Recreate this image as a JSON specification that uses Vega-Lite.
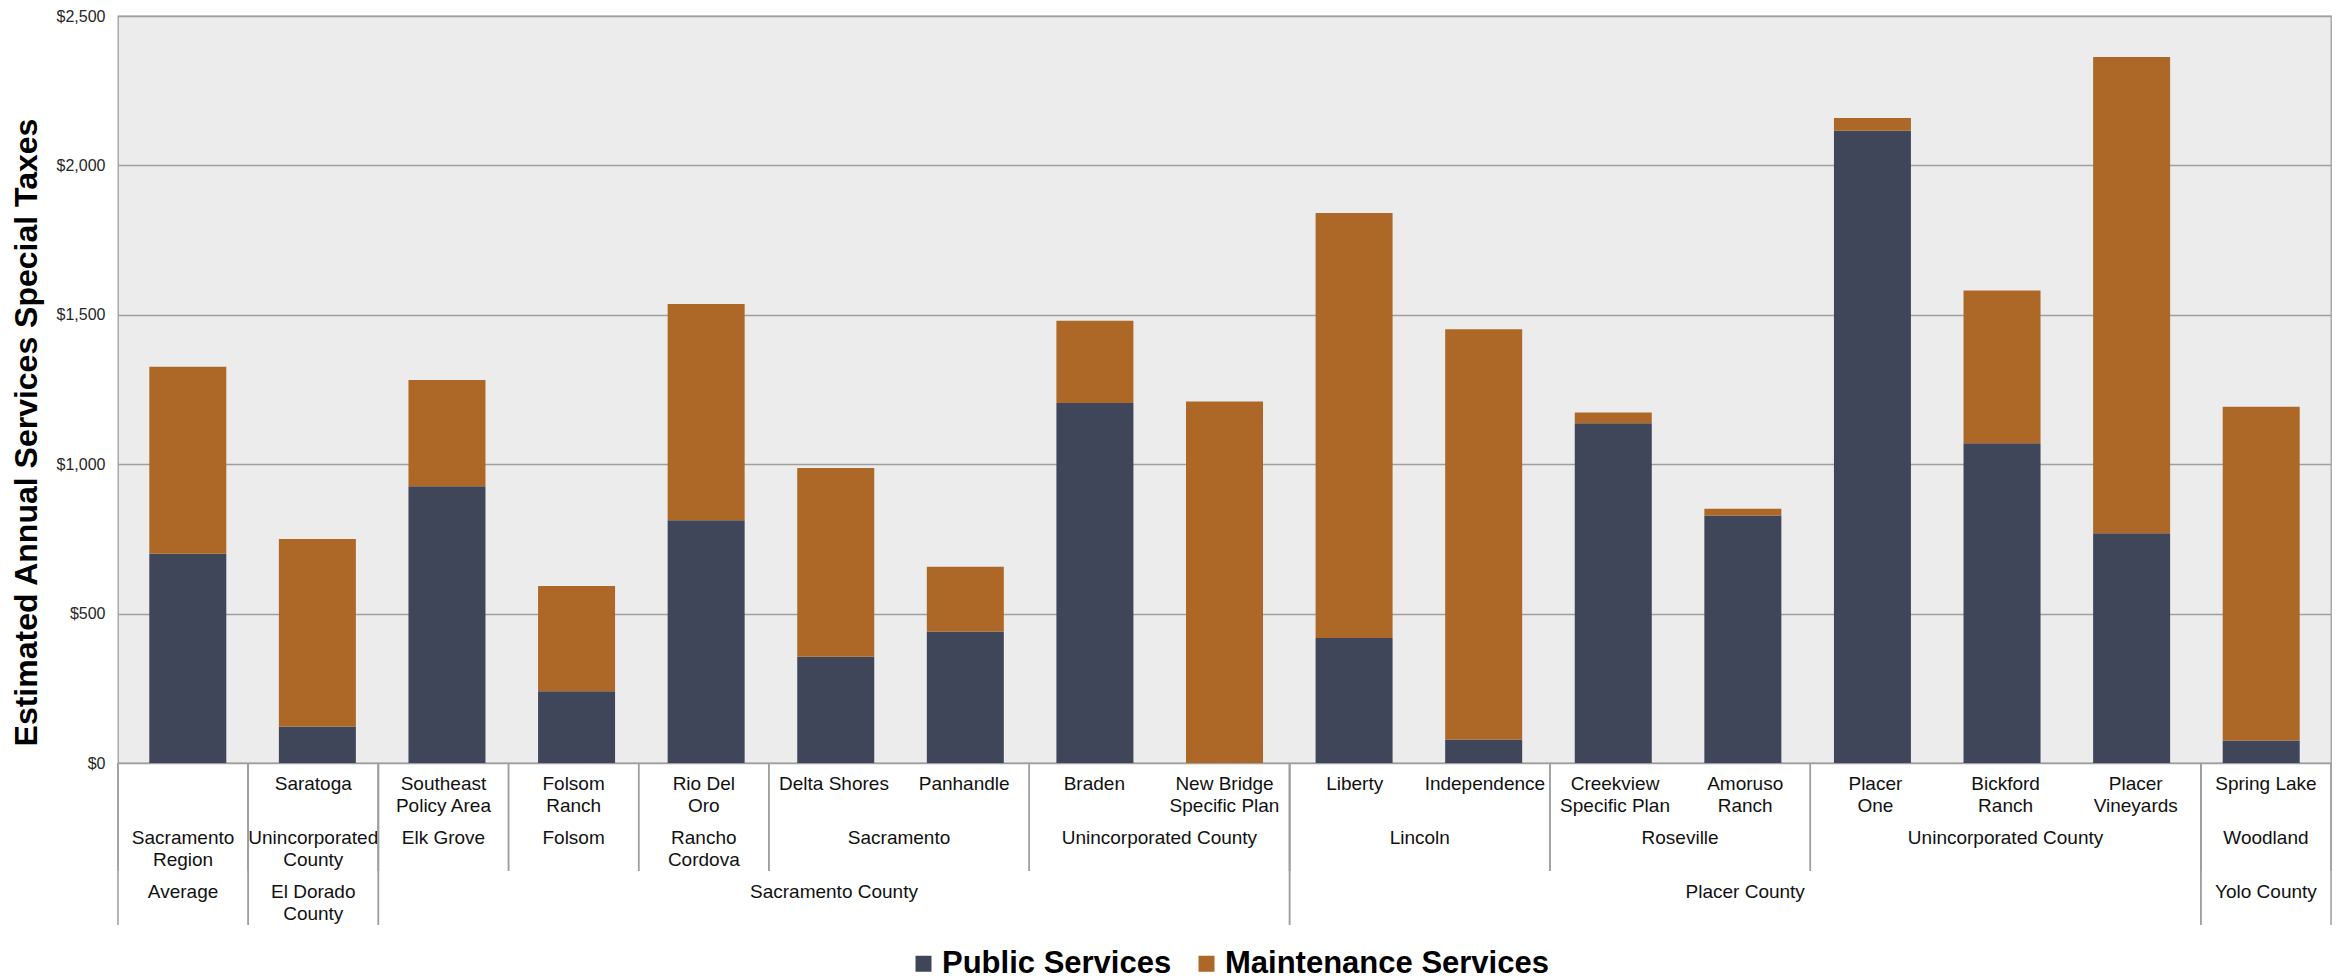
{
  "$schema": "https://vega.github.io/schema/vega-lite/v6.json",
  "padding": {"left": 9, "top": 7, "right": 5, "bottom": 5},
  "background": "#ffffff",
  "bounds": "flush",
  "spacing": 0,
  "data": {"values": [
    {"project": "", "city": "Sacramento\nRegion", "county": "Average", "Public Services": 700, "Maintenance Services": 626},
    {"project": "Saratoga", "city": "Unincorporated\nCounty", "county": "El Dorado\nCounty", "Public Services": 122, "Maintenance Services": 628},
    {"project": "Southeast\nPolicy Area", "city": "Elk Grove", "county": "Sacramento County", "Public Services": 926, "Maintenance Services": 356},
    {"project": "Folsom\nRanch", "city": "Folsom", "county": "Sacramento County", "Public Services": 240, "Maintenance Services": 352},
    {"project": "Rio Del\nOro", "city": "Rancho\nCordova", "county": "Sacramento County", "Public Services": 812, "Maintenance Services": 724},
    {"project": "Delta Shores", "city": "Sacramento", "county": "Sacramento County", "Public Services": 356, "Maintenance Services": 631},
    {"project": "Panhandle", "city": "Sacramento", "county": "Sacramento County", "Public Services": 440, "Maintenance Services": 217},
    {"project": "Braden", "city": "Unincorporated County", "county": "Sacramento County", "Public Services": 1205, "Maintenance Services": 275},
    {"project": "New Bridge\nSpecific Plan", "city": "Unincorporated County", "county": "Sacramento County", "Public Services": 0, "Maintenance Services": 1210},
    {"project": "Liberty", "city": "Lincoln", "county": "Placer County", "Public Services": 418, "Maintenance Services": 1423},
    {"project": "Independence", "city": "Lincoln", "county": "Placer County", "Public Services": 79, "Maintenance Services": 1373},
    {"project": "Creekview\nSpecific Plan", "city": "Roseville", "county": "Placer County", "Public Services": 1137, "Maintenance Services": 36},
    {"project": "Amoruso\nRanch", "city": "Roseville", "county": "Placer County", "Public Services": 828, "Maintenance Services": 23},
    {"project": "Placer\nOne", "city": "Unincorporated County", "county": "Placer County", "Public Services": 2116, "Maintenance Services": 43},
    {"project": "Bickford\nRanch", "city": "Unincorporated County", "county": "Placer County", "Public Services": 1070, "Maintenance Services": 511},
    {"project": "Placer\nVineyards", "city": "Unincorporated County", "county": "Placer County", "Public Services": 769, "Maintenance Services": 1594},
    {"project": "Spring Lake", "city": "Woodland", "county": "Yolo County", "Public Services": 75, "Maintenance Services": 1117}
  ]},
  "transform": [{"window": [{"op": "row_number", "as": "idx"}]}],
  "vconcat": [
    {
      "width": 2213,
      "height": 747,
      "view": {"stroke": "#9e9e9e", "strokeWidth": 1.3, "fill": "#ececec"},
      "transform": [{"fold": ["Public Services", "Maintenance Services"], "as": ["type", "value"]}],
      "mark": {"type": "bar", "width": 77},
      "encoding": {
        "x": {"field": "idx", "type": "quantitative", "scale": {"domain": [0.5, 17.5], "nice": false, "zero": false}, "axis": null},
        "y": {"field": "value", "type": "quantitative", "stack": "zero",
              "scale": {"domain": [0, 2500], "nice": false},
              "axis": {"values": [0, 500, 1000, 1500, 2000, 2500], "format": "$,.0f", "grid": true, "titleY": 416},
              "title": "Estimated Annual Services Special Taxes"},
        "color": {"field": "type", "type": "nominal",
                  "scale": {"domain": ["Public Services", "Maintenance Services"], "range": ["#40465a", "#ad6828"]},
                  "legend": {"title": null, "orient": "none", "direction": "horizontal", "legendX": 790, "legendY": 932,
                             "symbolType": "square", "symbolSize": 256, "symbolStrokeWidth": 0,
                             "labelFont": "Liberation Sans", "labelFontSize": 31, "labelFontWeight": "bold", "labelColor": "#000000",
                             "columnPadding": 19, "labelOffset": 3}},
        "order": {"field": "type", "sort": "descending"}
      }
    },
    {
      "width": 2213,
      "height": 162,
      "view": {"stroke": null, "fill": null},
      "layer": [
        {
          "mark": {"type": "text", "baseline": "top", "dy": 12, "lineBreak": "\n", "fontSize": 19, "lineHeight": 22, "font": "Liberation Sans", "color": "#111111"},
          "encoding": {
            "x": {"field": "idx", "type": "quantitative", "scale": {"domain": [0.5, 17.5], "nice": false, "zero": false}, "axis": null},
            "y": {"datum": 0, "type": "quantitative", "scale": {"domain": [0, 3], "nice": false, "reverse": true}, "axis": null},
            "text": {"field": "project"}
          }
        },
        {
          "mark": {"type": "text", "baseline": "top", "dy": 12, "lineBreak": "\n", "fontSize": 19, "lineHeight": 22, "font": "Liberation Sans", "color": "#111111"},
          "encoding": {
            "x": {"field": "idx", "aggregate": "mean", "type": "quantitative"},
            "y": {"datum": 1, "type": "quantitative"},
            "text": {"field": "city"},
            "detail": {"field": "county"}
          }
        },
        {
          "mark": {"type": "text", "baseline": "top", "dy": 12, "lineBreak": "\n", "fontSize": 19, "lineHeight": 22, "font": "Liberation Sans", "color": "#111111"},
          "encoding": {
            "x": {"field": "idx", "aggregate": "mean", "type": "quantitative"},
            "y": {"datum": 2, "type": "quantitative"},
            "text": {"field": "county"}
          }
        },
        {
          "mark": {"type": "rule", "color": "#9e9e9e", "strokeWidth": 1.5, "xOffset": -65.1},
          "encoding": {
            "x": {"field": "idx", "aggregate": "min", "type": "quantitative"},
            "y": {"datum": 0, "type": "quantitative"},
            "y2": {"datum": 2},
            "detail": [{"field": "county"}, {"field": "city"}]
          }
        },
        {
          "mark": {"type": "rule", "color": "#9e9e9e", "strokeWidth": 1.5, "xOffset": 65.1},
          "encoding": {
            "x": {"field": "idx", "aggregate": "max", "type": "quantitative"},
            "y": {"datum": 0, "type": "quantitative"},
            "y2": {"datum": 2},
            "detail": [{"field": "county"}, {"field": "city"}]
          }
        },
        {
          "mark": {"type": "rule", "color": "#9e9e9e", "strokeWidth": 1.5, "xOffset": -65.1},
          "encoding": {
            "x": {"field": "idx", "aggregate": "min", "type": "quantitative"},
            "y": {"datum": 0, "type": "quantitative"},
            "y2": {"datum": 3},
            "detail": {"field": "county"}
          }
        },
        {
          "mark": {"type": "rule", "color": "#9e9e9e", "strokeWidth": 1.5, "xOffset": 65.1},
          "encoding": {
            "x": {"field": "idx", "aggregate": "max", "type": "quantitative"},
            "y": {"datum": 0, "type": "quantitative"},
            "y2": {"datum": 3},
            "detail": {"field": "county"}
          }
        }
      ]
    }
  ],
  "config": {
    "axis": {
      "domain": false,
      "ticks": false,
      "gridColor": "#9e9e9e",
      "gridWidth": 1.3,
      "labelFont": "Liberation Sans",
      "labelFontSize": 16,
      "labelColor": "#262626",
      "labelPadding": 13,
      "titleFont": "Liberation Sans",
      "titleFontSize": 32,
      "titleFontWeight": "bold",
      "titleColor": "#000000",
      "titlePadding": 13
    },
    "legend": {"labelLimit": 0}
  }
}
